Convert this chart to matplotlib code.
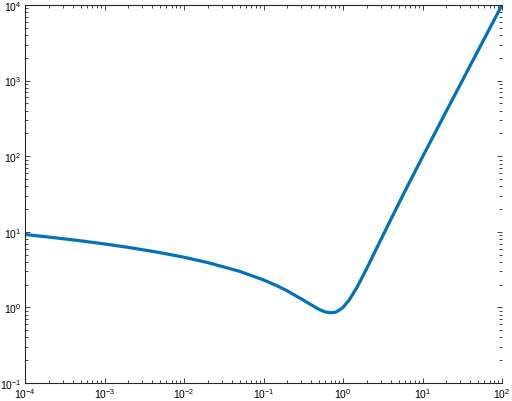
import matplotlib
matplotlib.use("Agg")
import matplotlib.pyplot as plt
from matplotlib.ticker import LogLocator

plt.rcParams['font.family'] = ['Liberation Sans', 'DejaVu Sans']
plt.rcParams['mathtext.default'] = 'regular'

# values
x_vals = [1e-4, 2e-4, 5e-4, 1e-3, 2e-3, 5e-3, 1e-2, 2e-2, 5e-2,
          0.1, 0.15, 0.2, 0.3, 0.4, 0.5, 0.6, 0.7, 0.8, 0.9, 1.0,
          1.2, 1.5, 2.0, 3.0, 5.0, 7.0, 10.0, 20.0, 50.0, 100.0]
y_vals = [9.21, 8.52, 7.60, 6.91, 6.22, 5.30, 4.61, 3.91, 3.00,
          2.31, 1.92, 1.65, 1.29, 1.08, 0.94, 0.87, 0.85, 0.86, 0.92, 1.00,
          1.26, 1.84, 3.31, 7.90, 23.4, 47.1, 97.7, 397.0, 2496.0, 9995.0]

blue = (0.0, 0.447, 0.741)
edge = (0.15, 0.15, 0.15)

fig = plt.figure(figsize=(5.12, 4.02), dpi=100)
ax = fig.add_axes([25 / 512, 18 / 402, 477 / 512, 378 / 402])
ax.loglog(x_vals, y_vals, color=blue, linewidth=2.3)
ax.set_xlim(1e-4, 1e2)
ax.set_ylim(1e-1, 1e4)

ax.xaxis.set_major_locator(LogLocator(base=10, numticks=10))
ax.yaxis.set_major_locator(LogLocator(base=10, numticks=10))
ax.xaxis.set_minor_locator(LogLocator(base=10, subs=range(2, 10), numticks=20))
ax.yaxis.set_minor_locator(LogLocator(base=10, subs=range(2, 10), numticks=20))

for side in ['left', 'bottom', 'top']:
    ax.spines[side].set_color(edge)
    ax.spines[side].set_linewidth(0.8)
ax.spines['right'].set_visible(False)

ax.tick_params(which='both', direction='in', top=True, right=True,
               colors=edge, labelcolor='black', labelsize=7.5, width=0.6)
ax.tick_params(which='major', length=3.6, pad=2.5)
ax.tick_params(which='minor', length=2.0)

fig.savefig("out.png", dpi=100)
